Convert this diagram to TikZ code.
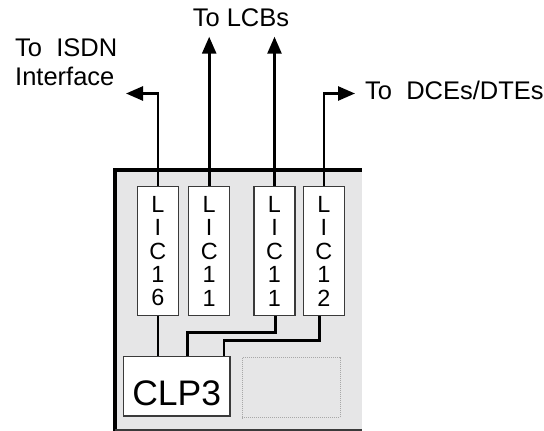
\documentclass[tikz,border=0pt]{standalone}
\usepackage{fontspec}
\setmainfont{Liberation Sans}
\usetikzlibrary{arrows.meta,calc}
\definecolor{panelgray}{HTML}{E6E6E7}
\definecolor{edgegray}{HTML}{3A3A3A}
\definecolor{dotgray}{HTML}{A8A8A8}
\begin{document}
\begin{tikzpicture}[x=1pt,y=-1pt,
  wire/.style={line width=2.6pt,black},
  arrowwire/.style={wire,-{Triangle[length=17pt,width=14pt]}},
  licbox/.style={draw=edgegray,line width=1.2pt,fill=white,minimum width=41pt,minimum height=129pt,
    inner sep=0pt,align=center,font=\fontsize{23.4}{23.4}\selectfont},
  lbl/.style={inner sep=0pt,font=\fontsize{25.5}{28}\selectfont}]
\useasboundingbox (0,0) rectangle (544,431);
% panel
\fill[panelgray] (115,170) rectangle (362,431);
\draw[line width=4pt,black] (115,431) -- (115,170) -- (362,170);
\draw[line width=2.5pt,edgegray] (115,429.8) -- (362,429.8);
% dotted box
\node[draw=dotgray,line width=1pt,dash pattern=on 1pt off 1pt,minimum width=97.7pt,minimum height=60.4pt,inner sep=0pt] (spare) at (291.15,387.5) {};
% LIC boxes
\node[licbox] (lic16) at (157.8,251.2) {L\\I\\C\\1\\6};
\node[licbox] (lica) at (209.2,251.2) {L\\I\\C\\1\\1};
\node[licbox] (licb) at (274.5,251.2) {L\\I\\C\\1\\1};
\node[licbox] (lic12) at (323.8,251.2) {L\\I\\C\\1\\2};
% CLP3
\node[draw=edgegray,line width=1.2pt,fill=white,minimum width=106.7pt,minimum height=59.3pt,inner sep=0pt,
  text height=37.3pt,text depth=0pt,font=\fontsize{35.5}{40}\selectfont] (clp) at (176.65,386.35) {CLP3};
% free ends
\coordinate (isdn) at (126,93.5);
\coordinate (lcba) at (209.2,36.7);
\coordinate (lcbb) at (274.5,36.7);
\coordinate (dce) at (355,93.5);
% upward connectors
\draw[arrowwire] (lic16.north) |- (isdn);
\draw[arrowwire] (lica.north) -- (lcba);
\draw[arrowwire] (licb.north) -- (lcbb);
\draw[arrowwire] (lic12.north) |- (dce);
% to CLP3
\draw[wire] (lic16.south) -- (lic16.south |- clp.north);
\draw[wire] ($(lica.south)+(0.8,0)$) -- ($(lica.south)+(0.8,0)$ |- clp.north);
\draw[wire] ($(licb.south)+(1.2,0)$) -- ++(0,16) -| ($(clp.north)+(10.6,0)$);
\draw[wire] ($(lic12.south)+(-4.5,0)$) -- ++(0,24.3) -| ($(clp.north)+(47.3,0)$);
% labels
\node[lbl,anchor=base west,align=left] (tisdn) at (15,85) {To\ \ ISDN\\[1pt]Interface};
\node[lbl,anchor=base] (tlcb) at (241,26.7) {To LCBs};
\node[lbl,anchor=base west] (tdce) at (365,99.3) {To\ \ DCEs/DTEs};
\end{tikzpicture}
\end{document}
